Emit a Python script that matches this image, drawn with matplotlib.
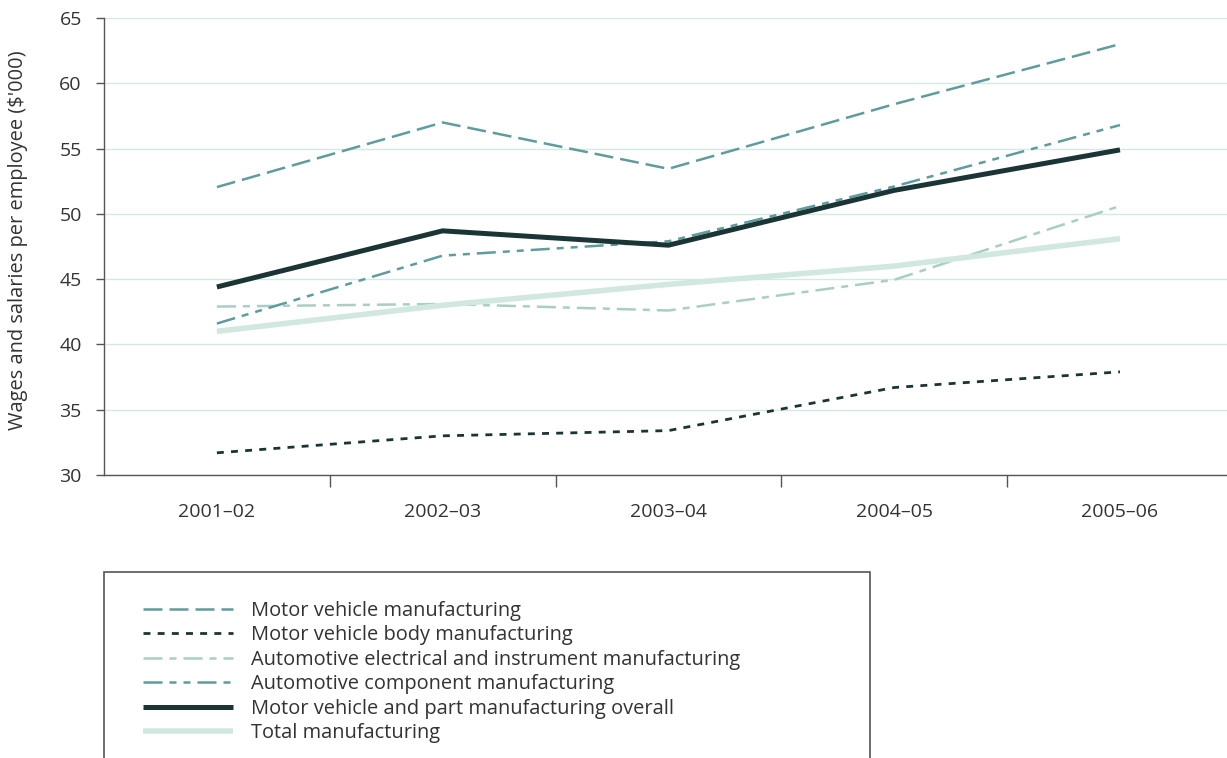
import matplotlib
matplotlib.use("Agg")
import matplotlib.pyplot as plt
from matplotlib.patches import Rectangle
from matplotlib.ticker import FixedLocator

plt.rcParams['font.family'] = ['Open Sans', 'DejaVu Sans']

# Data ($'000 per employee)
years = ["2001\u201302", "2002\u201303", "2003\u201304", "2004\u201305", "2005\u201306"]
motor_vehicle = [52.05, 57.0, 53.45, 58.4, 63.0]
body = [31.7, 33.0, 33.4, 36.7, 37.9]
electrical = [42.9, 43.1, 42.6, 44.95, 50.6]
component = [41.6, 46.8, 47.9, 52.1, 56.8]
overall = [44.4, 48.7, 47.6, 51.8, 54.9]
total_manuf = [41.0, 43.0, 44.6, 46.0, 48.1]

labels = [
    "Motor vehicle manufacturing",
    "Motor vehicle body manufacturing",
    "Automotive electrical and instrument manufacturing",
    "Automotive component manufacturing",
    "Motor vehicle and part manufacturing overall",
    "Total manufacturing",
]

teal = "#5e9c9d"
dark = "#1b3536"
light_teal = "#a9cec5"
pale = "#d0e8df"
grid_col = "#d3e9e2"
text_col = "#333333"
fs_tick = 14
fs_text = 14.4

W, H = 1227, 758
fig = plt.figure(figsize=(W / 100, H / 100), dpi=100)
ax = fig.add_axes([104 / W, 1 - 475 / H, 1 - 104 / W, (475 - 18) / H])

x = list(range(len(years)))

ax.plot(x, motor_vehicle, color=teal, lw=1.8, dashes=(7.6, 2.8), label=labels[0])
ax.plot(x, body, color=dark, lw=2.0, dashes=(2.5, 2.6), label=labels[1])
ax.plot(x, electrical, color=light_teal, lw=1.8, dashes=(7.6, 2.8, 2.8, 2.8), label=labels[2])
ax.plot(x, component, color=teal, lw=1.8, dashes=(7.6, 2.8, 2.8, 2.8, 2.8, 2.8), label=labels[3])
ax.plot(x, overall, color=dark, lw=3.6, solid_capstyle='butt', label=labels[4])
ax.plot(x, total_manuf, color=pale, lw=4.0, solid_capstyle='butt', label=labels[5])

ax.set_xlim(-0.5, 4.474)
ax.set_ylim(30, 65)
ax.set_yticks(range(30, 66, 5))
ax.set_xticks(x)
ax.set_xticklabels(years)
ax.xaxis.set_minor_locator(FixedLocator([0.5, 1.5, 2.5, 3.5]))

ax.grid(axis='y', color=grid_col, lw=1)
ax.set_axisbelow(True)
for s in ("top", "right"):
    ax.spines[s].set_visible(False)
for s in ("left", "bottom"):
    ax.spines[s].set_color("#555555")
    ax.spines[s].set_linewidth(1.0)

ax.tick_params(axis='y', length=6, width=1, color="#555555", labelsize=fs_tick,
               labelcolor=text_col, pad=10)
ax.tick_params(axis='x', which='major', length=0, labelsize=fs_tick,
               labelcolor=text_col, pad=20)
ax.tick_params(axis='x', which='minor', length=8.6, width=1, color="#555555")

ax.set_ylabel("Wages and salaries per employee ($'000)", fontsize=fs_text, color=text_col)
ax.yaxis.set_label_coords(-0.068, 0.514)

# Legend box: open at the bottom, runs off the page
fig.patches.append(Rectangle((104 / W, -0.05), (870 - 104) / W, 0.05 + 1 - 572 / H,
                             transform=fig.transFigure, fill=False,
                             edgecolor="#555555", lw=1.2))

handles, labs = ax.get_legend_handles_labels()
fig.legend(handles, labs, loc='upper left', bbox_to_anchor=(143 / W, 1 - 601 / H),
           frameon=False, fontsize=fs_text, handlelength=4.5, handletextpad=0.88,
           labelspacing=0.22, borderpad=0, borderaxespad=0, labelcolor=text_col)

fig.savefig("out.png", dpi=100)
